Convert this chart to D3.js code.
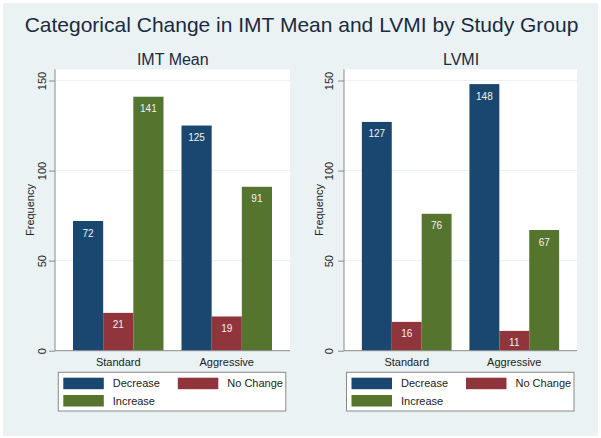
<!DOCTYPE html>
<html><head><meta charset="utf-8">
<script src="https://cdn.jsdelivr.net/npm/d3@7"></script>
<style>body{margin:0;background:#fff}svg{display:block;font-family:"Liberation Sans",Arial,sans-serif}</style>
</head><body><svg id="c" width="601" height="438"></svg>
<script>
const title = "Categorical Change in IMT Mean and LVMI by Study Group";
const groups = ["Standard", "Aggressive"];
const seriesNames = ["Decrease", "No Change", "Increase"];
const seriesColors = ["#1a476f", "#90353b", "#55752f"];
const yTicks = [0, 50, 100, 150];
const imtTitle = "IMT Mean";
const imtDecrease = [72, 125];
const imtNoChange = [21, 19];
const imtIncrease = [141, 91];
const lvmiTitle = "LVMI";
const lvmiDecrease = [127, 148];
const lvmiNoChange = [16, 11];
const lvmiIncrease = [76, 67];

const svg = d3.select("#c");
svg.append("rect").attr("x", 3).attr("y", 3).attr("width", 595).attr("height", 433).attr("fill", "#eaf2f3");
svg.append("text").attr("x", 301.5).attr("y", 32).attr("text-anchor", "middle")
  .attr("font-size", 21).attr("fill", "#1c2a3f").text(title);

function panel(cfg) {
  const g = svg.append("g");
  const data = [cfg.dec, cfg.noc, cfg.inc];
  const y = d3.scaleLinear().domain([0, 150]).range([350.7, 80.5]);
  const top = y(156.2);
  const x0 = d3.scaleBand().domain(groups).range([cfg.left, cfg.right]).paddingInner(0.166).paddingOuter(0.166);
  const x1 = d3.scaleBand().domain(seriesNames).range([0, x0.bandwidth()]);
  g.append("rect").attr("x", cfg.left).attr("y", top).attr("width", cfg.right - cfg.left)
    .attr("height", y(0) - top).attr("fill", "#fff");
  // gridlines
  g.selectAll(".grid").data(yTicks.filter(d => d > 0)).join("line")
    .attr("x1", cfg.left).attr("x2", cfg.right).attr("y1", d => y(d)).attr("y2", d => y(d))
    .attr("stroke", "#eaf2f3").attr("stroke-width", 1);
  // subtitle
  g.append("text").attr("x", cfg.subX).attr("y", 65).attr("text-anchor", "middle")
    .attr("font-size", 16).attr("fill", "#1c2a3f").text(cfg.title);
  // bars
  seriesNames.forEach((s, i) => {
    const vals = data[i];
    g.selectAll(null).data(groups).join("rect")
      .attr("x", d => x0(d) + x1(s)).attr("width", x1.bandwidth())
      .attr("y", (d, j) => y(vals[j])).attr("height", (d, j) => y(0) - y(vals[j]))
      .attr("fill", seriesColors[i]);
    g.selectAll(null).data(groups).join("text")
      .attr("x", d => x0(d) + x1(s) + x1.bandwidth() / 2)
      .attr("y", (d, j) => y(vals[j]) + 15.5)
      .attr("text-anchor", "middle").attr("font-size", 10).attr("fill", "#f2f2f2")
      .text((d, j) => vals[j]);
  });
  // y axis
  const ya = d3.axisLeft(y).tickValues(yTicks).tickSize(6).tickFormat(d3.format("d"));
  const ag = g.append("g").attr("transform", `translate(${cfg.left},0)`).call(ya);
  ag.select(".domain").attr("stroke", "#8a8a8a").attr("d", `M0,${top}V${y(0)}`);
  ag.selectAll(".tick line").attr("stroke", "#8a8a8a");
  ag.selectAll(".tick text").attr("font-size", 11).attr("fill", "#222")
    .attr("font-family", '"Liberation Sans",Arial,sans-serif')
    .attr("transform", null).attr("x", null).attr("y", null).attr("dy", null)
    .attr("text-anchor", "middle")
    .attr("transform", d => `translate(${-cfg.tickOff},0) rotate(-90)`).attr("dy", "0.35em");
  g.append("text").attr("transform", `translate(${cfg.left - cfg.freqOff},${(top + y(0)) / 2}) rotate(-90)`)
    .attr("text-anchor", "middle").attr("dy", "0.35em").attr("font-size", 11).attr("fill", "#222").text("Frequency");
  // x axis
  g.append("line").attr("x1", cfg.left).attr("x2", cfg.right).attr("y1", y(0)).attr("y2", y(0)).attr("stroke", "#8a8a8a");
  g.selectAll(null).data(groups).join("text")
    .attr("x", d => x0(d) + x0.bandwidth() / 2).attr("y", 365.5).attr("text-anchor", "middle")
    .attr("font-size", 11).attr("fill", "#222").text(d => d);
  // legend
  const lx = cfg.legX, ly = 372.3;
  g.append("rect").attr("x", lx).attr("y", ly).attr("width", 227.5).attr("height", 38.7)
    .attr("fill", "#fff").attr("stroke", "#8a8a8a").attr("stroke-width", 1);
  const pos = [[lx + 5, ly + 5.4], [lx + 119.5, ly + 5.4], [lx + 5, ly + 22.7]];
  seriesNames.forEach((s, i) => {
    g.append("rect").attr("x", pos[i][0]).attr("y", pos[i][1]).attr("width", 40.5).attr("height", 11.5).attr("fill", seriesColors[i]);
    g.append("text").attr("x", pos[i][0] + 49.5).attr("y", pos[i][1] + 5.8).attr("dy", "0.35em")
      .attr("font-size", 11).attr("fill", "#222").text(s);
  });
}

panel({title: imtTitle, dec: imtDecrease, noc: imtNoChange, inc: imtIncrease,
  left: 55, right: 290, subX: 172.8, tickOff: 13.3, freqOff: 25, legX: 58.3});
panel({title: lvmiTitle, dec: lvmiDecrease, noc: lvmiNoChange, inc: lvmiIncrease,
  left: 344, right: 577, subX: 461, tickOff: 14.7, freqOff: 24.7, legX: 346.5});
</script></body></html>
